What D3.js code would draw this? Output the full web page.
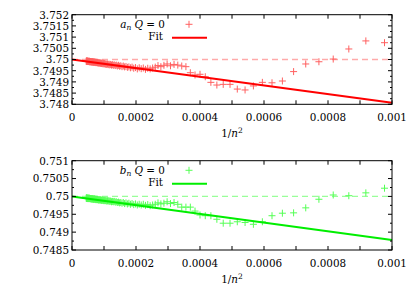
<!DOCTYPE html>
<html lang="en">
<head>
  <meta http-equiv="Content-Type" content="text/html; charset=utf-8">
  <title></title>
  <style type="text/css">
    body { margin: 0; background: #fff; }
    text { font: 10.4px "DejaVu Serif", serif; fill: #000; }
    .frame { fill: none; stroke: #000; stroke-width: 1; }
    .tick  { stroke: #000; stroke-width: 1; }
  </style>
</head>
<body>
<script src="https://d3js.org/d3.v7.min.js"></script>
<script>
  //----------------------------------------------------------------------------
  // n of each point; the x axis is 1/n^2
  var nValues = [32, 33, 34, 35, 36, 37, 38, 39, 40, 41, 42, 43, 44, 45, 46, 47,
    48, 49, 50, 51, 52, 53, 54, 55, 56, 57, 58, 59, 60, 61, 62, 63, 64, 65, 66,
    67, 68, 69, 70, 71, 72, 73, 74, 75, 76, 77, 78, 79, 80, 81, 82, 83, 84, 85,
    86, 87, 88, 89, 90, 91, 92, 93, 94, 95, 96, 97, 98, 99, 100, 101, 102, 103,
    104, 105, 106, 107, 108, 109, 110, 111, 112, 113, 114, 115, 116, 117, 118,
    119, 120, 121, 122, 123, 124, 125, 126, 127, 128, 129, 130, 131, 132, 133,
    134, 135, 136, 137, 138, 139, 140, 141, 142, 143, 144, 145, 146, 147, 148,
    149, 150];

  var aValues = [3.75075, 3.75083, 3.75047, 3.75002, 3.74990, 3.74980, 3.74946,
    3.74904, 3.74896, 3.74898, 3.74882, 3.74864, 3.74868, 3.74889, 3.74889,
    3.74886, 3.74898, 3.74923, 3.74934, 3.74931, 3.74941, 3.74968, 3.74971,
    3.74975, 3.74978, 3.74972, 3.74980, 3.74974, 3.74968, 3.74973, 3.74966,
    3.74962, 3.74958, 3.74961, 3.74956, 3.74962, 3.74959, 3.74963, 3.74958,
    3.74964, 3.74961, 3.74966, 3.74963, 3.74967, 3.74965, 3.74969, 3.74967,
    3.74971, 3.74968, 3.74972, 3.74970, 3.74974, 3.74971, 3.74975, 3.74973,
    3.74976, 3.74974, 3.74977, 3.74975, 3.74978, 3.74976, 3.74979, 3.74977,
    3.74980, 3.74978, 3.74981, 3.74979, 3.74982, 3.74980, 3.74983, 3.74981,
    3.74984, 3.74982, 3.74985, 3.74983, 3.74985, 3.74984, 3.74986, 3.74984,
    3.74987, 3.74985, 3.74987, 3.74986, 3.74988, 3.74986, 3.74988, 3.74987,
    3.74989, 3.74987, 3.74989, 3.74988, 3.74990, 3.74988, 3.74990, 3.74989,
    3.74990, 3.74989, 3.74991, 3.74989, 3.74991, 3.74990, 3.74991, 3.74990,
    3.74992, 3.74990, 3.74992, 3.74991, 3.74992, 3.74991, 3.74992, 3.74991,
    3.74993, 3.74991, 3.74993, 3.74992, 3.74993, 3.74992, 3.74993, 3.74992];

  var bValues = [0.75023, 0.75010, 0.75002, 0.75004, 0.74992, 0.74968, 0.74954,
    0.74953, 0.74946, 0.74929, 0.74922, 0.74927, 0.74929, 0.74925, 0.74925,
    0.74936, 0.74946, 0.74946, 0.74948, 0.74959, 0.74970, 0.74970, 0.74970,
    0.74978, 0.74983, 0.74980, 0.74985, 0.74981, 0.74979, 0.74982, 0.74978,
    0.74976, 0.74974, 0.74977, 0.74975, 0.74978, 0.74976, 0.74978, 0.74976,
    0.74979, 0.74977, 0.74980, 0.74978, 0.74981, 0.74979, 0.74982, 0.74980,
    0.74983, 0.74981, 0.74983, 0.74982, 0.74984, 0.74983, 0.74985, 0.74984,
    0.74986, 0.74985, 0.74986, 0.74985, 0.74987, 0.74986, 0.74988, 0.74987,
    0.74988, 0.74987, 0.74989, 0.74988, 0.74989, 0.74988, 0.74989, 0.74989,
    0.74990, 0.74989, 0.74990, 0.74990, 0.74991, 0.74990, 0.74991, 0.74990,
    0.74991, 0.74991, 0.74992, 0.74991, 0.74992, 0.74991, 0.74992, 0.74992,
    0.74993, 0.74992, 0.74993, 0.74992, 0.74993, 0.74993, 0.74993, 0.74993,
    0.74994, 0.74993, 0.74994, 0.74993, 0.74994, 0.74994, 0.74994, 0.74994,
    0.74995, 0.74994, 0.74995, 0.74994, 0.74995, 0.74994, 0.74995, 0.74995,
    0.74995, 0.74994, 0.74995, 0.74995, 0.74995, 0.74995, 0.74996, 0.74995];

  // fit lines: value at 1/n^2 = 0 and slope
  var aFit = [3.75, -1.93];
  var bFit = [0.75, -1.22];

  var xTickLabels = ["0", "0.0002", "0.0004", "0.0006", "0.0008", "0.001"];
  var aTickLabels = ["3.748", "3.7485", "3.749", "3.7495", "3.75", "3.7505",
    "3.751", "3.7515", "3.752"];
  var bTickLabels = ["0.7485", "0.749", "0.7495", "0.75", "0.7505", "0.751"];

  var width = 415;
  var height = 291;

  var svg = d3.select("body")
    .append("svg")
      .attr("width", width)
      .attr("height", height);

  var x = d3.scaleLinear().domain([0, 0.001]).range([72, 392]);

  function panel(opt) {
    var y = d3.scaleLinear().domain(opt.domain).range([opt.bottom, opt.top]);
    var g = svg.append("g");

    // dashed reference line at the n -> infinity value
    g.append("line")
      .attr("x1", x(0)).attr("x2", x(0.001))
      .attr("y1", y(opt.fit[0])).attr("y2", y(opt.fit[0]))
      .attr("stroke", opt.light)
      .attr("stroke-width", 1.4)
      .attr("stroke-dasharray", "6,4");

    // points
    g.selectAll("path.pt")
      .data(nValues)
      .enter().append("path")
        .attr("class", "pt")
        .attr("transform", function(d, i) {
          return "translate(" + x(1 / (d * d)) + "," + y(opt.values[i]) + ")";
        })
        .attr("d", "M-3.5,0h7M0,-3.5v7")
        .attr("stroke", opt.mid)
        .attr("stroke-width", 1);

    // fit
    g.append("line")
      .attr("x1", x(0)).attr("x2", x(0.001))
      .attr("y1", y(opt.fit[0]))
      .attr("y2", y(opt.fit[0] + opt.fit[1] * 0.001))
      .attr("stroke", opt.color)
      .attr("stroke-width", 2);

    // axes ticks
    var xt = d3.range(0, 11).map(function(i) { return i * 0.0001; });
    xt.forEach(function(v) {
      g.append("line").attr("class", "tick")
        .attr("x1", x(v)).attr("x2", x(v))
        .attr("y1", opt.bottom).attr("y2", opt.bottom - 4);
      g.append("line").attr("class", "tick")
        .attr("x1", x(v)).attr("x2", x(v))
        .attr("y1", opt.top).attr("y2", opt.top + 4);
    });
    xTickLabels.forEach(function(t, i) {
      g.append("text")
        .attr("x", x(i * 0.0002))
        .attr("y", opt.bottom + 17)
        .attr("text-anchor", "middle")
        .text(t);
    });

    var ny = opt.labels.length;
    for (var k = 0; k < (ny - 1) * 2 + 1; k++) {
      var v = opt.domain[0] + k * 0.00025;
      var len = (k % 2 == 0) ? 4 : 2;
      g.append("line").attr("class", "tick")
        .attr("x1", x(0)).attr("x2", x(0) + len)
        .attr("y1", y(v)).attr("y2", y(v));
      g.append("line").attr("class", "tick")
        .attr("x1", x(0.001)).attr("x2", x(0.001) - len)
        .attr("y1", y(v)).attr("y2", y(v));
    }
    opt.labels.forEach(function(t, i) {
      g.append("text")
        .attr("x", 69)
        .attr("y", y(opt.domain[0] + i * 0.0005) + 3.8)
        .attr("text-anchor", "end")
        .text(t);
    });

    g.append("rect").attr("class", "frame")
      .attr("x", 72).attr("y", opt.top)
      .attr("width", 320).attr("height", opt.bottom - opt.top);

    // x label 1/n^2
    var xl = g.append("text")
      .attr("x", 232).attr("y", opt.bottom + 33)
      .attr("text-anchor", "middle");
    xl.append("tspan").text("1/");
    xl.append("tspan").attr("font-style", "italic").text("n");
    xl.append("tspan").attr("dy", -4).attr("font-size", "7.5px").text("2");

    // legend
    var lt = g.append("text")
      .attr("x", 165).attr("y", opt.top + 13)
      .attr("text-anchor", "end");
    lt.append("tspan").attr("font-style", "italic").text(opt.name);
    lt.append("tspan").attr("font-style", "italic").attr("font-size", "7.5px")
      .attr("dy", 2).text("n");
    lt.append("tspan").attr("dy", -2).text(" ");
    lt.append("tspan").attr("font-style", "italic").text("Q");
    lt.append("tspan").text(" = 0");
    g.append("path")
      .attr("transform", "translate(189," + (opt.top + 9.6) + ")")
      .attr("d", "M-3.5,0h7M0,-3.5v7")
      .attr("stroke", opt.mid);

    g.append("text")
      .attr("x", 163).attr("y", opt.top + 25.5)
      .attr("text-anchor", "end")
      .text("Fit");
    g.append("line")
      .attr("x1", 172).attr("x2", 207)
      .attr("y1", opt.top + 23).attr("y2", opt.top + 23)
      .attr("stroke", opt.color)
      .attr("stroke-width", 2);
  }

  panel({ top: 14.7, bottom: 104.3, domain: [3.748, 3.752], values: aValues,
    fit: aFit, labels: aTickLabels, name: "a",
    color: "#ff0000", mid: "#ff6060", light: "#ffaaaa" });

  panel({ top: 160.7, bottom: 250, domain: [0.7485, 0.751], values: bValues,
    fit: bFit, labels: bTickLabels, name: "b",
    color: "#00ee00", mid: "#55ff55", light: "#99ff99" });

  //----------------------------------------------------------------------------
</script>
</body>
</html>
